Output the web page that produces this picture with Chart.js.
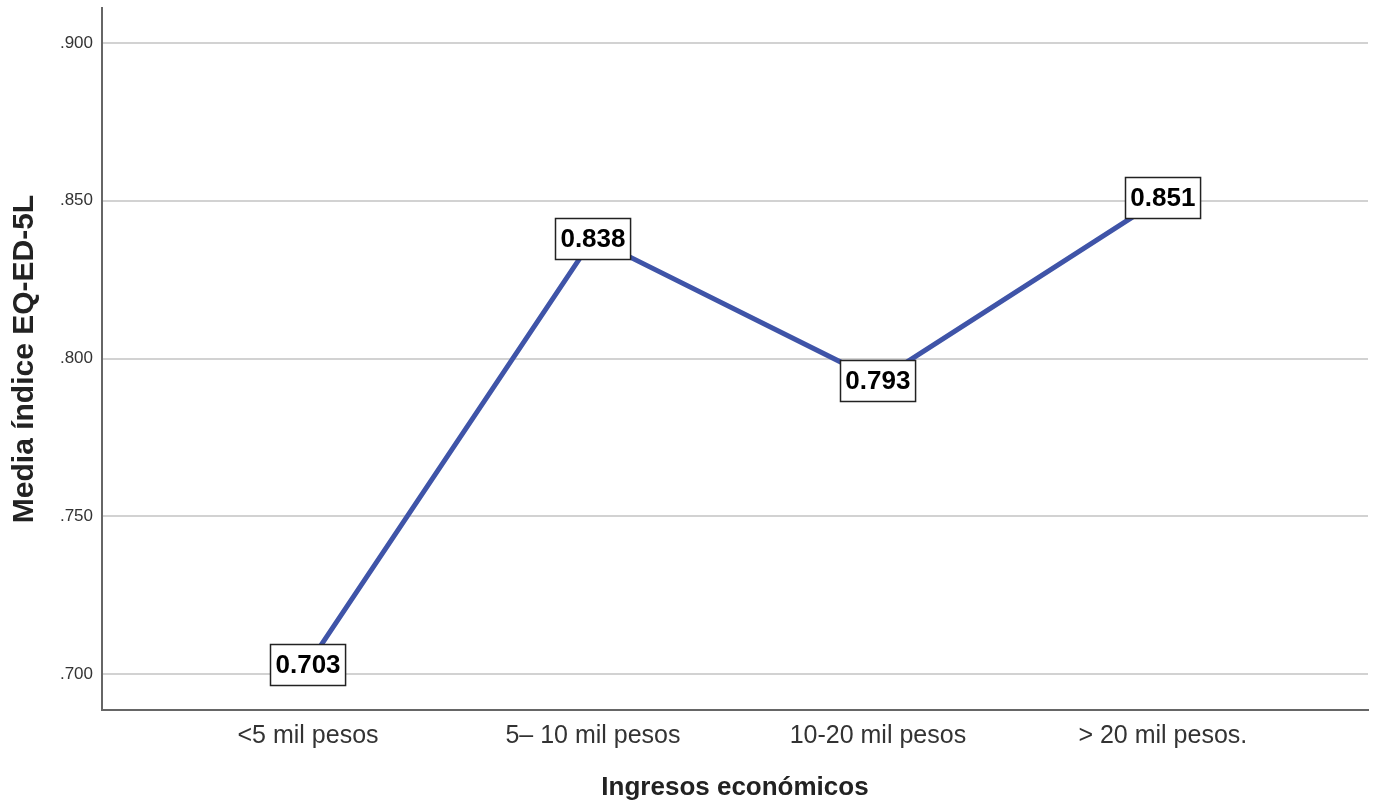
<!DOCTYPE html>
<html>
<head>
<meta charset="utf-8">
<script src="https://cdn.jsdelivr.net/npm/chart.js@4/dist/chart.umd.min.js"></script>
<style>
  html, body { margin: 0; padding: 0; background: #fff; }
  #wrap { width: 1373px; height: 805px; }
</style>
</head>
<body>
<div id="wrap"><canvas id="myChart" width="1373" height="805"></canvas></div>
<script>
// SETUP
const categories = ["<5 mil pesos", "5– 10 mil pesos", "10-20 mil pesos", "> 20 mil pesos."];
const means = [0.703, 0.838, 0.793, 0.851];
const yTicks = [0.700, 0.750, 0.800, 0.850, 0.900];

const font = "'Liberation Sans', Arial, sans-serif";

// white boxed value label centred on each point
const valueBoxes = {
    id: "valueBoxes",
    afterDatasetsDraw(chart) {
        const ctx = chart.ctx;
        const meta = chart.getDatasetMeta(0);
        ctx.save();
        ctx.font = "bold 26px " + font;
        ctx.textAlign = "center";
        ctx.textBaseline = "middle";
        meta.data.forEach((pt, i) => {
            const txt = means[i].toFixed(3);
            const w = ctx.measureText(txt).width + 10;
            const h = 41;
            const x = Math.round(pt.x - w / 2) + 0.5;
            const y = Math.round(pt.y - h / 2) + 0.5;
            ctx.fillStyle = "#fff";
            ctx.fillRect(x, y, w, h);
            ctx.strokeStyle = "#222";
            ctx.lineWidth = 1.5;
            ctx.strokeRect(x, y, w, h);
            ctx.fillStyle = "#000";
            ctx.fillText(txt, pt.x, pt.y + 1);
        });
        ctx.restore();
    },
};

// CONFIG
const config = {
    type: "line",
    data: {
        datasets: [
            {
                data: means.map((v, i) => ({ x: i, y: v })),
                borderColor: "#3f54a8",
                borderWidth: 5,
                pointRadius: 0,
                tension: 0,
            },
        ],
    },
    options: {
        responsive: false,
        animation: false,
        layout: { padding: { top: 0, right: 5, left: 0, bottom: 0 } },
        scales: {
            x: {
                type: "linear",
                min: -0.723,
                max: 3.72,
                afterBuildTicks(axis) {
                    axis.ticks = categories.map((c, i) => ({ value: i }));
                },
                afterFit(axis) {
                    axis.height = 95;
                },
                ticks: {
                    autoSkip: false,
                    maxRotation: 0,
                    padding: 11,
                    color: "#333",
                    font: { family: font, size: 25 },
                    callback: (v) => categories[v],
                },
                grid: { display: false, drawTicks: false },
                border: { display: true, color: "#666", width: 2 },
                title: {
                    display: true,
                    text: "Ingresos económicos",
                    color: "#222",
                    font: { family: font, size: 26, weight: "bold" },
                    padding: { top: 0, bottom: 2 },
                },
            },
            y: {
                min: 0.6886,
                max: 0.9111,
                afterBuildTicks(axis) {
                    axis.ticks = yTicks.map((v) => ({ value: v }));
                },
                afterFit(axis) {
                    axis.width = 102;
                    // plot area starts 8px from the top edge
                    axis.paddingTop = 8;
                    axis.paddingBottom = 0;
                },
                ticks: {
                    padding: 9,
                    color: "#333",
                    font: { family: font, size: 17 },
                    callback: (v) => v.toFixed(3).replace(/^0/, ""),
                },
                grid: { color: "#d2d2d2", lineWidth: 2, drawTicks: false },
                border: { display: true, color: "#666", width: 2 },
                title: {
                    display: true,
                    text: "Media índice EQ-ED-5L",
                    color: "#222",
                    font: { family: font, size: 30, weight: "bold" },
                    padding: { top: 7, bottom: 0 },
                },
            },
        },
        plugins: {
            legend: { display: false },
            tooltip: { enabled: false },
        },
    },
    plugins: [valueBoxes],
};

const myChart = new Chart(document.getElementById("myChart"), config);
</script>
</body>
</html>
